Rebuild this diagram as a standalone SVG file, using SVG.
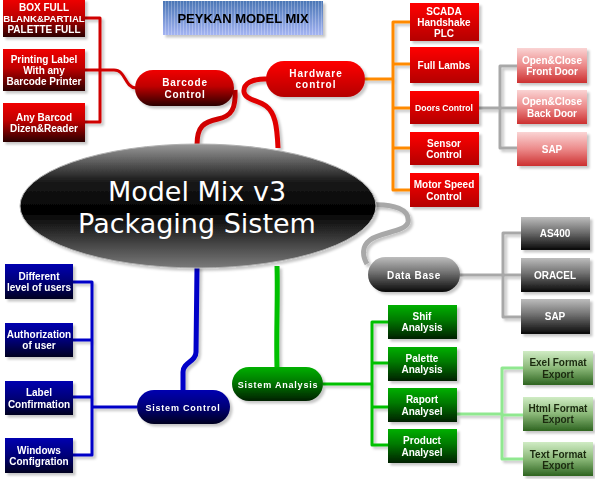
<svg xmlns="http://www.w3.org/2000/svg" width="595" height="479" viewBox="0 0 595 479">
<defs>
<filter id="sh" x="-20%" y="-20%" width="140%" height="140%"><feDropShadow dx="2.5" dy="2.5" stdDeviation="0.8" flood-color="#000" flood-opacity="0.22"/></filter>
<linearGradient id="gRedDark" x1="0" y1="0" x2="0" y2="1"><stop offset="0" stop-color="#f00000"/><stop offset="0.45" stop-color="#c00000"/><stop offset="1" stop-color="#2a0000"/></linearGradient>
<linearGradient id="gRed" x1="0" y1="0" x2="0" y2="1"><stop offset="0" stop-color="#ff0000"/><stop offset="1" stop-color="#b40000"/></linearGradient>
<linearGradient id="gPink" x1="0" y1="0" x2="0" y2="1"><stop offset="0" stop-color="#fad4d4"/><stop offset="0.5" stop-color="#ec8a8a"/><stop offset="1" stop-color="#cc3030"/></linearGradient>
<linearGradient id="gGray" x1="0" y1="0" x2="0" y2="1"><stop offset="0" stop-color="#bdbdbd"/><stop offset="0.45" stop-color="#707070"/><stop offset="1" stop-color="#080808"/></linearGradient>
<linearGradient id="gGreen" x1="0" y1="0" x2="0" y2="1"><stop offset="0" stop-color="#00b000"/><stop offset="0.45" stop-color="#007800"/><stop offset="1" stop-color="#002000"/></linearGradient>
<linearGradient id="gLGreen" x1="0" y1="0" x2="0" y2="1"><stop offset="0" stop-color="#d0ecc4"/><stop offset="0.5" stop-color="#8ab878"/><stop offset="1" stop-color="#2e6420"/></linearGradient>
<linearGradient id="gBlue" x1="0" y1="0" x2="0" y2="1"><stop offset="0" stop-color="#0000b0"/><stop offset="0.5" stop-color="#000078"/><stop offset="1" stop-color="#000020"/></linearGradient>
<linearGradient id="gEll" x1="0" y1="0" x2="0" y2="1"><stop offset="0" stop-color="#9a9a9a"/><stop offset="0.3" stop-color="#1a1a1a"/><stop offset="0.55" stop-color="#000"/><stop offset="1" stop-color="#7a7a7a"/></linearGradient>
<linearGradient id="gTitle" x1="0" y1="0" x2="0" y2="1"><stop offset="0" stop-color="#4a76b6"/><stop offset="1" stop-color="#a4b4f2"/></linearGradient>
<pattern id="stripes" width="3" height="10" patternUnits="userSpaceOnUse"><rect x="0" y="0" width="1" height="10" fill="#fff" fill-opacity="0.25"/></pattern>
</defs>
<style>
.t{font-family:"Liberation Sans",Arial,sans-serif;font-weight:bold;font-size:10px;fill:#fff;text-anchor:middle}
.td{fill:#1a2a10}
.p{letter-spacing:0.8px}
.c{fill:none;stroke-linejoin:round;stroke-linecap:butt}
.red{stroke:#d00000;stroke-width:3}
.org{stroke:#ff8a00;stroke-width:3}
.gry{stroke:#a8a8a8;stroke-width:3}
.grn{stroke:#00c000;stroke-width:3}
.lg{stroke:#90e890;stroke-width:3}
.blu{stroke:#0000c8;stroke-width:3}
.thick{stroke-width:5}
</style>
<g id="connectors" filter="url(#sh)">
<path class="c red" d="M85,18 H100 V122 H85 M85,70 H114 C126,70 124,87 136,88"/>
<path class="c red thick" d="M197,145 C197,126 204,122 218,119 C232,116 236,108 235,90"/>
<path class="c thick" stroke="#e00000" d="M268,79 C252,78 243,84 244,92 C245,100 258,100 266,106 C275,113 277,125 278,148"/>
<path class="c org" d="M365,79 H393 M410,22 H393 V190 H410 M393,64 H410 M393,108 H410 M393,148 H410"/>
<path class="c gry" d="M479,108 H500 M517,66 H500 V148 H517 M500,108 H517"/>
<path class="c gry thick" d="M368,205 C395,203 410,210 408,222 C406,232 380,232 370,240 C362,246 362,255 367,264"/>
<path class="c gry" d="M460,275 H503 M521,233 H503 V317 H521 M503,275 H521"/>
<path class="c grn thick" d="M277,266 C278,300 276,330 277,368"/>
<path class="c grn" d="M323,384 H372 M388,322 H372 V445 H388 M372,363 H388 M372,407 H388"/>
<path class="c lg" d="M457,414 H502 M523,368 H502 V459 H523 M502,415 H523"/>
<path class="c blu thick" d="M197,266 L196,352 C196,362 183,362 183,372 L183,391"/>
<path class="c blu" d="M137,407 H92 M73,282 H92 V455 H73 M73,340 H92 M73,397 H92"/>
</g>
<g id="title" filter="url(#sh)">
<rect x="163" y="1" width="160" height="34" fill="url(#gTitle)"/>
<rect x="163" y="1" width="160" height="34" fill="url(#stripes)"/>
<text x="243" y="23" class="t" style="fill:#000;font-size:13px">PEYKAN MODEL MIX</text>
</g>
<g id="center">
<ellipse cx="198" cy="206" rx="178" ry="62" fill="url(#gEll)" stroke="#b0b0b0" stroke-width="1" filter="url(#sh)"/>
<text x="197" y="201" style="font-family:'DejaVu Sans',Verdana,sans-serif;font-size:27px;fill:#fff;text-anchor:middle">Model Mix v3</text>
<text x="197" y="233" style="font-family:'DejaVu Sans',Verdana,sans-serif;font-size:27px;fill:#fff;text-anchor:middle">Packaging Sistem</text>
</g>
<g id="barcode-control" filter="url(#sh)">
<rect x="135" y="70" width="99" height="36" rx="18" fill="url(#gRedDark)"/>
<text class="t p" x="185" y="86">Barcode</text><text class="t p" x="185" y="98">Control</text>
</g>
<g id="box-full" filter="url(#sh)">
<rect x="3" y="-1" width="82" height="38" fill="url(#gRedDark)"/>
<text class="t" x="44" y="11">BOX FULL</text><text class="t" x="44" y="22" style="font-size:9.6px">BLANK&amp;PARTIAL</text><text class="t" x="44" y="33">PALETTE FULL</text>
</g>
<g id="printing-label" filter="url(#sh)">
<rect x="3" y="49" width="82" height="42" fill="url(#gRedDark)"/>
<text class="t" x="44" y="63">Printing Label</text><text class="t" x="44" y="74">With any</text><text class="t" x="44" y="85">Barcode Printer</text>
</g>
<g id="any-barcod" filter="url(#sh)">
<rect x="3" y="103" width="82" height="39" fill="url(#gRedDark)"/>
<text class="t" x="44" y="121">Any Barcod</text><text class="t" x="44" y="132">Dizen&amp;Reader</text>
</g>
<g id="hardware-control" filter="url(#sh)">
<rect x="266" y="61" width="99" height="36" rx="18" fill="url(#gRed)"/>
<text class="t" x="316" y="77" style="letter-spacing:1px">Hardware</text><text class="t" x="316" y="88" style="letter-spacing:1px">control</text>
</g>
<g id="scada" filter="url(#sh)">
<rect x="410" y="3" width="69" height="38" fill="url(#gRed)"/>
<text class="t" x="444" y="15">SCADA</text><text class="t" x="444" y="26">Handshake</text><text class="t" x="444" y="37">PLC</text>
</g>
<g id="full-lambs" filter="url(#sh)">
<rect x="410" y="47" width="69" height="36" fill="url(#gRed)"/>
<text class="t" x="444" y="69">Full Lambs</text>
</g>
<g id="doors-control" filter="url(#sh)">
<rect x="410" y="91" width="69" height="33" fill="url(#gRed)"/>
<text class="t" x="444" y="111" style="font-size:8.6px">Doors Control</text>
</g>
<g id="sensor-control" filter="url(#sh)">
<rect x="410" y="132" width="69" height="33" fill="url(#gRed)"/>
<text class="t" x="444" y="147">Sensor</text><text class="t" x="444" y="158">Control</text>
</g>
<g id="motor-speed" filter="url(#sh)">
<rect x="410" y="173" width="69" height="34" fill="url(#gRed)"/>
<text class="t" x="444" y="188">Motor Speed</text><text class="t" x="444" y="200">Control</text>
</g>
<g id="front-door" filter="url(#sh)">
<rect x="517" y="48" width="70" height="35" fill="url(#gPink)"/>
<text class="t" x="552" y="64">Open&amp;Close</text><text class="t" x="552" y="75">Front Door</text>
</g>
<g id="back-door" filter="url(#sh)">
<rect x="517" y="90" width="70" height="34" fill="url(#gPink)"/>
<text class="t" x="552" y="105">Open&amp;Close</text><text class="t" x="552" y="117">Back Door</text>
</g>
<g id="sap-door" filter="url(#sh)">
<rect x="517" y="132" width="70" height="34" fill="url(#gPink)"/>
<text class="t" x="552" y="153">SAP</text>
</g>
<g id="data-base" filter="url(#sh)">
<rect x="368" y="257" width="92" height="35" rx="17.5" fill="url(#gGray)"/>
<text class="t" x="414" y="279" style="letter-spacing:0.6px">Data Base</text>
</g>
<g id="as400" filter="url(#sh)">
<rect x="521" y="217" width="69" height="33" fill="url(#gGray)"/>
<text class="t" x="555" y="237">AS400</text>
</g>
<g id="oracel" filter="url(#sh)">
<rect x="521" y="258" width="69" height="34" fill="url(#gGray)"/>
<text class="t" x="555" y="279">ORACEL</text>
</g>
<g id="sap-db" filter="url(#sh)">
<rect x="521" y="299" width="69" height="35" fill="url(#gGray)"/>
<text class="t" x="555" y="320">SAP</text>
</g>
<g id="sistem-analysis" filter="url(#sh)">
<rect x="232" y="367" width="91" height="34" rx="17" fill="url(#gGreen)"/>
<text class="t" x="278" y="388" style="font-size:9px;letter-spacing:0.8px">Sistem Analysis</text>
</g>
<g id="shif-analysis" filter="url(#sh)">
<rect x="388" y="305" width="69" height="34" fill="url(#gGreen)"/>
<text class="t" x="422" y="320">Shif</text><text class="t" x="422" y="331">Analysis</text>
</g>
<g id="palette-analysis" filter="url(#sh)">
<rect x="388" y="347" width="69" height="34" fill="url(#gGreen)"/>
<text class="t" x="422" y="362">Palette</text><text class="t" x="422" y="373">Analysis</text>
</g>
<g id="raport-analysel" filter="url(#sh)">
<rect x="388" y="388" width="69" height="34" fill="url(#gGreen)"/>
<text class="t" x="422" y="403">Raport</text><text class="t" x="422" y="415">Analysel</text>
</g>
<g id="product-analysel" filter="url(#sh)">
<rect x="388" y="429" width="69" height="34" fill="url(#gGreen)"/>
<text class="t" x="422" y="444">Product</text><text class="t" x="422" y="456">Analysel</text>
</g>
<g id="exel-export" filter="url(#sh)">
<rect x="523" y="351" width="70" height="34" fill="url(#gLGreen)"/>
<text class="t td" x="558" y="366">Exel Format</text><text class="t td" x="558" y="378">Export</text>
</g>
<g id="html-export" filter="url(#sh)">
<rect x="523" y="397" width="70" height="34" fill="url(#gLGreen)"/>
<text class="t td" x="558" y="412">Html Format</text><text class="t td" x="558" y="423">Export</text>
</g>
<g id="text-export" filter="url(#sh)">
<rect x="523" y="442" width="70" height="34" fill="url(#gLGreen)"/>
<text class="t td" x="558" y="458">Text Format</text><text class="t td" x="558" y="469">Export</text>
</g>
<g id="sistem-control" filter="url(#sh)">
<rect x="137" y="390" width="93" height="34" rx="17" fill="url(#gBlue)"/>
<text class="t" x="183" y="411" style="font-size:9px;letter-spacing:0.8px">Sistem  Control</text>
</g>
<g id="different-level" filter="url(#sh)">
<rect x="5" y="264" width="68" height="35" fill="url(#gBlue)"/>
<text class="t" x="39" y="280">Different</text><text class="t" x="39" y="291">level of users</text>
</g>
<g id="authorization" filter="url(#sh)">
<rect x="5" y="323" width="68" height="34" fill="url(#gBlue)"/>
<text class="t" x="39" y="338">Authorization</text><text class="t" x="39" y="349">of user</text>
</g>
<g id="label-confirmation" filter="url(#sh)">
<rect x="5" y="381" width="68" height="34" fill="url(#gBlue)"/>
<text class="t" x="39" y="396">Label</text><text class="t" x="39" y="408">Confirmation</text>
</g>
<g id="windows-config" filter="url(#sh)">
<rect x="5" y="438" width="68" height="35" fill="url(#gBlue)"/>
<text class="t" x="39" y="454">Windows</text><text class="t" x="39" y="465">Configration</text>
</g>
</svg>
